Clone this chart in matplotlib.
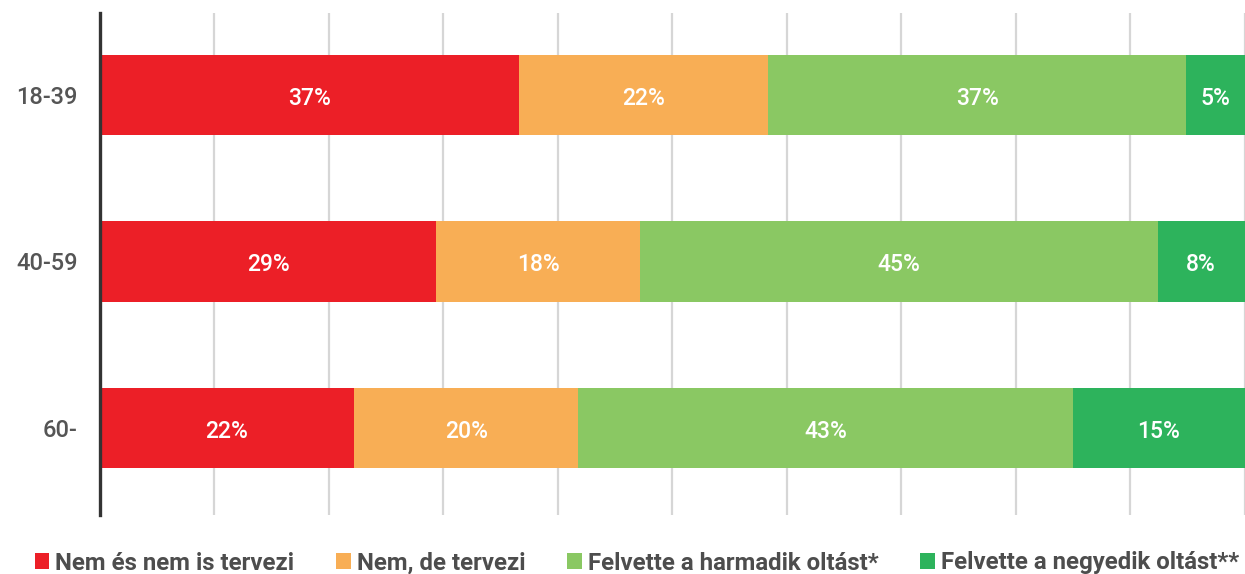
import matplotlib
matplotlib.use("Agg")
import matplotlib.pyplot as plt
import numpy as np

# age groups (top to bottom)
groups = ['18-39', '40-59', '60-']
series_names = ['Nem és nem is tervezi', 'Nem, de tervezi',
                'Felvette a harmadik oltást*', 'Felvette a negyedik oltást**']
colors = ['#EC1F27', '#F8AE55', '#8AC863', '#2DB35C']

# shares in percent, one list per series
nem_nem = [36.6, 29.4, 22.2]
nem_tervezi = [21.8, 17.8, 19.6]
harmadik = [36.5, 45.2, 43.2]
negyedik = [5.1, 7.6, 15.0]

# printed labels
label_nem_nem = ['37%', '29%', '22%']
label_nem_tervezi = ['22%', '18%', '20%']
label_harmadik = ['37%', '45%', '43%']
label_negyedik = ['5%', '8%', '15%']

series = [nem_nem, nem_tervezi, harmadik, negyedik]
labels = [label_nem_nem, label_nem_tervezi, label_harmadik, label_negyedik]

plt.rcParams['font.family'] = ['Roboto', 'DejaVu Sans']

fig = plt.figure(figsize=(12.45, 5.74), dpi=100)
ax = fig.add_axes([100 / 1245, 1 - 515 / 574, 1 - 100 / 1245 - 0.5 / 1245, (515 - 13) / 574])

y = np.arange(len(groups))
left = np.zeros(len(groups))
for vals, labs, col, name in zip(series, labels, colors, series_names):
    bars = ax.barh(y, vals, left=left, height=0.48, color=col, label=name, zorder=3)
    for b, lab in zip(bars, labs):
        ax.text(b.get_x() + b.get_width() / 2, b.get_y() + b.get_height() / 2 + 0.02, lab,
                ha='center', va='center', color='white', fontsize=16.5,
                fontweight='medium', zorder=4)
    left += np.array(vals)

ax.set_xlim(0, 100)
ax.set_ylim(2.52, -0.49)
ax.set_xticks(np.arange(0, 101, 10))
ax.tick_params(axis='x', length=0, labelbottom=False)
ax.grid(axis='x', color='#D6D6D6', linewidth=1.6, zorder=0)
ax.set_yticks(y)
ax.set_yticklabels(groups, fontsize=17, fontweight='medium', color='#555555')
ax.tick_params(axis='y', length=0, pad=16)

for s in ['top', 'right', 'bottom']:
    ax.spines[s].set_visible(False)
ax.spines['left'].set_color('#333333')
ax.spines['left'].set_linewidth(2.4)
ax.spines['left'].set_zorder(5)

leg = fig.legend(loc='center', bbox_to_anchor=(0.5115, 1 - 563 / 574), ncol=4,
                 frameon=False, handlelength=0.6, handleheight=0.6,
                 handletextpad=0.25, columnspacing=1.75, borderpad=0,
                 prop={'size': 17.3, 'weight': 'bold'})
for t in leg.get_texts():
    t.set_color('#4D4D4D')

fig.savefig('out.png', dpi=100)
